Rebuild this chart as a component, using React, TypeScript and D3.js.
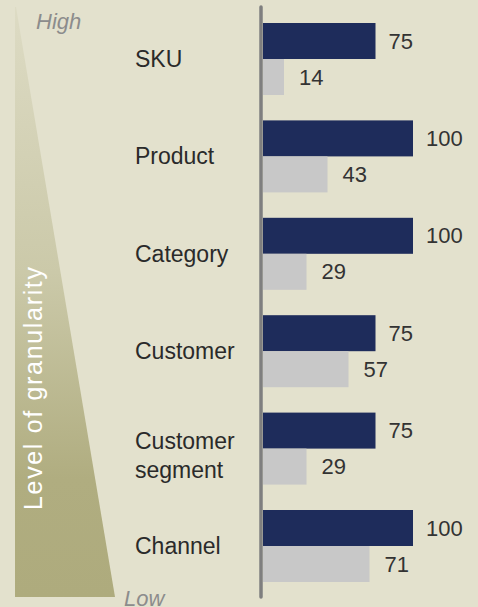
import * as d3 from "d3";
import { useEffect, useRef } from "react";

const categories = ["SKU", "Product", "Category", "Customer", "Customer segment", "Channel"];
const seriesA = [75, 100, 100, 75, 75, 100];
const seriesB = [14, 43, 29, 57, 29, 71];
const seriesKeys = ["a", "b"];

export default function App() {
  const ref = useRef<SVGSVGElement>(null);

  useEffect(() => {
    const svg = d3.select(ref.current);
    svg.selectAll("*").remove();
    const W = 478, H = 607;
    const font = "'Liberation Sans', Arial, Helvetica, sans-serif";

    svg.append("rect").attr("width", W).attr("height", H).attr("fill", "#e3e1cd");

    // granularity wedge
    const defs = svg.append("defs");
    const grad = defs.append("linearGradient").attr("id", "wedge")
      .attr("x1", 0).attr("y1", 0).attr("x2", 0).attr("y2", 1);
    grad.append("stop").attr("offset", "0%").attr("stop-color", "#dddbc4");
    grad.append("stop").attr("offset", "45%").attr("stop-color", "#cbc9a9");
    grad.append("stop").attr("offset", "80%").attr("stop-color", "#b0ad80");
    grad.append("stop").attr("offset", "100%").attr("stop-color", "#aeab7d");
    svg.append("path")
      .attr("d", "M15,7 L16,7 L115,597 L15,597 Z")
      .attr("fill", "url(#wedge)");

    svg.append("text").attr("x", 36).attr("y", 29)
      .attr("font-family", font).attr("font-size", 22).attr("font-style", "italic")
      .attr("fill", "#8c8c8c").text("High");
    svg.append("text").attr("x", 124).attr("y", 606)
      .attr("font-family", font).attr("font-size", 22).attr("font-style", "italic")
      .attr("fill", "#8c8c8c").text("Low");

    svg.append("text")
      .attr("transform", "translate(42,510) rotate(-90)")
      .attr("font-family", font).attr("font-size", 25)
      .attr("textLength", 243).attr("lengthAdjust", "spacing")
      .attr("fill", "#ffffff").text("Level of granularity");

    const x = d3.scaleLinear().domain([0, 100]).range([263, 413]);
    const y = d3.scaleBand().domain(categories).range([23, 582]).paddingInner(0.2608);
    const yi = d3.scaleBand().domain(seriesKeys).range([0, y.bandwidth()]);

    const rows = categories.map((c, i) => ({ c, a: seriesA[i], b: seriesB[i] }));

    const g = svg.selectAll("g.row").data(rows).join("g")
      .attr("class", "row")
      .attr("transform", (d) => `translate(0,${y(d.c)})`);

    g.append("rect").attr("x", x(0)).attr("y", yi("a")!)
      .attr("width", (d) => x(d.a) - x(0)).attr("height", yi.bandwidth())
      .attr("fill", "#1e2c5b");
    g.append("rect").attr("x", x(0)).attr("y", yi("b")!)
      .attr("width", (d) => x(d.b) - x(0)).attr("height", yi.bandwidth())
      .attr("fill", "#c8c8c8");

    g.append("text").attr("x", (d) => x(d.a) + 13).attr("y", yi("a")! + yi.bandwidth() / 2)
      .attr("dy", "0.35em").attr("font-family", font).attr("font-size", 22)
      .attr("fill", "#333333").text((d) => d.a);
    g.append("text").attr("x", (d) => x(d.b) + 15).attr("y", yi("b")! + yi.bandwidth() / 2)
      .attr("dy", "0.35em").attr("font-family", font).attr("font-size", 22)
      .attr("fill", "#333333").text((d) => d.b);

    // category labels
    g.each(function (d) {
      const words = d.c === "Customer segment" ? ["Customer", "segment"] : [d.c];
      const t = d3.select(this).append("text")
        .attr("x", 135).attr("font-family", font).attr("font-size", 23)
        .attr("fill", "#2a2a2a");
      const lh = 29;
      const start = words.length > 1 ? y.bandwidth() / 2 - 8 : y.bandwidth() / 2;
      words.forEach((w, k) => {
        t.append("tspan").attr("x", 135).attr("y", start + k * lh).attr("dy", "0.35em").text(w);
      });
    });

    // axis line
    svg.append("line").attr("x1", 261).attr("x2", 261).attr("y1", 7).attr("y2", 597)
      .attr("stroke", "#7f7f7f").attr("stroke-width", 3.5).attr("stroke-linecap", "round");
  }, []);

  return (
    <svg ref={ref} width={478} height={607} style={{ position: "absolute", left: 0, top: 0 }} />
  );
}
